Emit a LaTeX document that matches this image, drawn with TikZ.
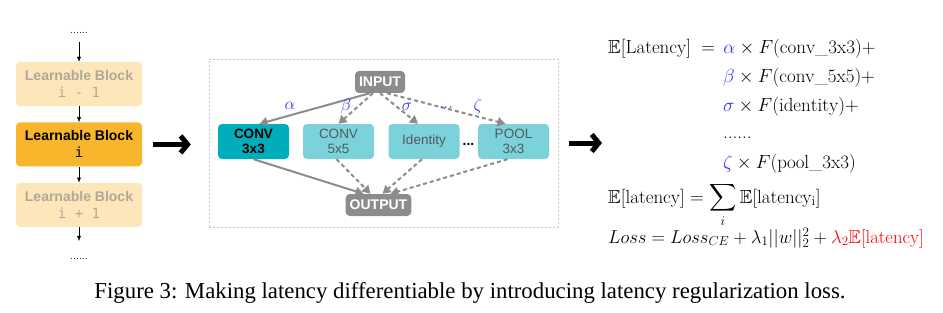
\RequirePackage{fix-cm}
\documentclass[tikz,border=0pt]{standalone}
\usepackage{amssymb}
\usepackage{fontspec}
\usetikzlibrary{arrows.meta, positioning}
\newfontfamily\boxfont{Liberation Sans}
\newfontfamily\codefont{DejaVu Sans Mono}
\newfontfamily\capfont{Liberation Serif}
\definecolor{blockpeach}{RGB}{253,231,186}
\definecolor{fadetext}{RGB}{178,168,150}
\definecolor{blockorange}{RGB}{248,182,44}
\definecolor{opdark}{RGB}{0,173,187}
\definecolor{oplight}{RGB}{124,210,218}
\definecolor{optext}{RGB}{80,90,92}
\definecolor{iogrey}{RGB}{140,140,140}
\definecolor{weightblue}{RGB}{51,51,255}

\begin{document}
\begin{tikzpicture}[
			x=1pt, y=-1pt,
			node distance=16pt,
			block/.style={rectangle, rounded corners=4pt, minimum width=126pt, minimum height=44pt, align=center, font=\boxfont\bfseries\fontsize{14}{17}\selectfont},
			fadeblock/.style={block, fill=blockpeach, text=fadetext},
			curblock/.style={block, fill=blockorange, text=black},
			op/.style={rectangle, rounded corners=4pt, minimum width=71pt, minimum height=35pt, align=center, fill=oplight, text=optext, font=\boxfont\fontsize{13.5}{15}\selectfont},
			io/.style={rectangle, rounded corners=4pt, fill=iogrey, text=white, minimum height=22pt, inner xsep=4pt, font=\boxfont\bfseries\fontsize{14}{16}\selectfont},
			cell/.style={rectangle, draw=black!22, dash pattern=on 2pt off 2pt, minimum width=349pt, minimum height=168pt},
			arrow/.style={-{Latex[length=5pt, width=4pt]}, black},
			opedge/.style={draw=iogrey, line width=2pt, -{Triangle[length=8pt, width=9pt]}},
			opdash/.style={opedge, dash pattern=on 4pt off 3pt},
			bigarrow/.style={line width=5pt, -{Straight Barb[length=7pt, width=17pt, line width=5pt]}},
			weight/.style={text=weightblue, font=\fontsize{17}{20}\selectfont},
			eq/.style={anchor=base west, inner sep=0pt, font=\fontsize{19}{23}\selectfont}
			]
			\useasboundingbox (0,0) rectangle (943,313);

			% chain of learnable blocks
			\node[fadeblock] (prev) at (79,84) {Learnable Block\\{\codefont\mdseries i - 1}};
			\node[curblock, below=of prev] (cur) {Learnable Block\\{\codefont\mdseries i}};
			\node[fadeblock, below=of cur] (next) {Learnable Block\\{\codefont\mdseries i + 1}};
			\node[font=\fontsize{11}{12}\selectfont] (dtop) at (79,33) {......};
			\node[font=\fontsize{11}{12}\selectfont] (dbot) at (79,259) {......};

			\draw[arrow, shorten <=5pt] (dtop) -- (prev);
			\draw[arrow] (prev) -- (cur);
			\draw[arrow] (cur) -- (next);
			\draw[arrow, shorten >=14pt] (next) -- (dbot);

			% candidate operations of block i
			\node[cell] (cellbox) at (383.5,143) {};
			\node[io] (inp) at (380,82) {INPUT};
			\node[io] (outp) at (378.5,205) {OUTPUT};
			\node[op, fill=opdark, text=black, font=\boxfont\bfseries\fontsize{13.5}{15}\selectfont] (conv3) at (253.5,141.5) {CONV\\3x3};
			\node[op] (conv5) at (338.5,141.5) {CONV\\5x5};
			\node[op] (ident) at (424,141.5) {Identity};
			\node[op] (pool) at (513.5,141.5) {POOL\\3x3};
			\node[anchor=base, font=\boxfont\bfseries\fontsize{14}{16}\selectfont] (more) at (468.5,145) {...};

			\draw[opedge] ([xshift=-10pt]inp.south) -- ([xshift=6pt]conv3.north);
			\draw[opdash] ([xshift=-7pt]inp.south) -- (conv5.north);
			\draw[opdash] (inp.south) -- ([xshift=-6pt]ident.north);
			\draw[opdash] ([xshift=7pt]inp.south) -- ([xshift=-8pt]pool.north);
			\draw[opedge] (conv3.south) -- ([xshift=-15pt]outp.north);
			\draw[opdash] ([xshift=-2pt]conv5.south) -- ([xshift=-8pt]outp.north);
			\draw[opdash] ([xshift=-2pt]ident.south) -- ([xshift=4pt]outp.north);
			\draw[opdash] ([xshift=-6pt]pool.south) -- ([xshift=12pt]outp.north);

			\node[weight] (wa) at (290,106) {$\alpha$};
			\node[weight] (wb) at (346,106) {$\beta$};
			\node[weight] (ws) at (407,107) {$\sigma$};
			\node[weight] (wd) at (446,108) {$...$};
			\node[weight] (wz) at (478,106) {$\zeta$};

			% latency terms
			\node[eq] (eq1) at (608,54) {$\mathbb{E}[\mathrm{Latency}]\hspace{5pt} =\hspace{3pt} {\color{weightblue}\alpha}\times F(\mathrm{conv\_3x3})+$};
			\node[eq] (eq2) at (723,83) {${\color{weightblue}\beta}\times F(\mathrm{conv\_5x5})+$};
			\node[eq] (eq3) at (723,111) {${\color{weightblue}\sigma}\times F(\mathrm{identity})+$};
			\node[eq] (eq4) at (723,138) {......};
			\node[eq] (eq5) at (723,168) {${\color{weightblue}\zeta}\times F(\mathrm{pool\_3x3})$};
			\node[eq] (eq6) at (608,203) {$\mathbb{E}[\mathrm{latency}] = \displaystyle\sum_i \mathbb{E}[\mathrm{latency_i}]$};
			\node[eq, font=\fontsize{18.6}{22}\selectfont] (eq7) at (608,243) {$Loss = Loss_{CE} + \lambda_1||w||_2^2 + {\color{red}\lambda_2\mathbb{E}[\mathrm{latency}]}$};

			\draw[bigarrow, shorten <=11pt, shorten >=18pt] (cur.east) -- (cur.east -| cellbox.west);
			\draw[bigarrow, shorten <=11pt, shorten >=6pt] (cellbox.east) -- (cellbox.east -| eq1.west);

			\node[font=\capfont\fontsize{22.8}{26}\selectfont] (caption) at (470,293) {Figure 3: Making latency differentiable by introducing latency regularization loss.};
		\end{tikzpicture}
\end{document}
